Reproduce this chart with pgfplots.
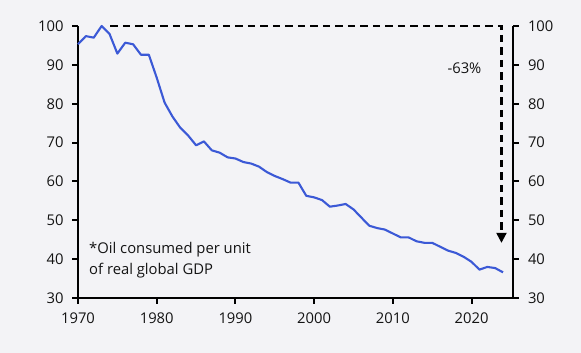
\documentclass[border=0pt]{standalone}
\usepackage{fontspec}
\setmainfont{Open Sans}
\usepackage{pgfplots}
\pgfplotsset{compat=1.18}
\usetikzlibrary{arrows.meta}
\definecolor{bg}{RGB}{243,243,246}
\definecolor{line}{RGB}{59,89,214}
\definecolor{txt}{RGB}{20,20,20}
\pgfplotstableread{
year val
1970 95.3
1971 97.4
1972 97.0
1973 100
1974 98.0
1975 92.9
1976 95.7
1977 95.3
1978 92.6
1979 92.6
1980 86.7
1981 80.3
1982 76.7
1983 73.8
1984 71.8
1985 69.3
1986 70.3
1987 68.0
1988 67.4
1989 66.2
1990 65.9
1991 65.0
1992 64.6
1993 63.8
1994 62.4
1995 61.4
1996 60.6
1997 59.7
1998 59.7
1999 56.3
2000 55.9
2001 55.2
2002 53.5
2003 53.8
2004 54.2
2005 52.8
2006 50.7
2007 48.6
2008 48.0
2009 47.6
2010 46.6
2011 45.6
2012 45.6
2013 44.6
2014 44.2
2015 44.2
2016 43.2
2017 42.2
2018 41.6
2019 40.6
2020 39.3
2021 37.3
2022 38.0
2023 37.7
2024 36.6
}\oil
\begin{document}
\begin{tikzpicture}
\fill[bg] (0,0) rectangle (581bp,353bp);
\useasboundingbox (0,0) rectangle (581bp,353bp);
\pgfplotsset{
  common/.style={
    at={(78bp,55bp)}, anchor=south west,
    width=434.5bp, height=272bp, scale only axis,
    xmin=1970, xmax=2025.2, ymin=30, ymax=100,
    ytick={30,40,...,100},
    tick align=outside,
    major tick length=6bp,
    axis line style={line width=2bp, black},
    every tick/.style={line width=2bp, black},
    tick label style={font=\fontsize{14.8bp}{17bp}\selectfont, text=txt},
    /pgf/number format/assume math mode=true,
    /pgf/number format/1000 sep={},
  }
}
\begin{axis}[common, clip=false,
  axis x line*=bottom, axis y line*=left,
  xtick={1970,1980,...,2020},
  yticklabel style={xshift=-5bp},
  xticklabel style={yshift=-5bp},
]
\addplot[line, line width=2.1bp, line join=round] table[x=year,y=val] {\oil};
\addplot[draw=black, /tikz/line width=2.1bp, dash pattern=on 7.5bp off 5bp,
  -{Triangle[width=10bp,length=10bp]}] coordinates {(1974.1,100) (2023.8,100) (2023.8,44.2)};
\node[font=\fontsize{14.8bp}{17bp}\selectfont, text=txt] at (axis cs:2019.1,89.2) {-63\%};
\node[font=\fontsize{14.8bp}{20.7bp}\selectfont, text=txt, anchor=west, align=left, inner sep=0pt]
  at (axis cs:1971.4,39.7) {*Oil consumed per unit\\of real global GDP};
\end{axis}
\begin{axis}[common,
  axis y line*=right, hide x axis,
  yticklabel style={xshift=6bp},
]
\end{axis}
\end{tikzpicture}
\end{document}
